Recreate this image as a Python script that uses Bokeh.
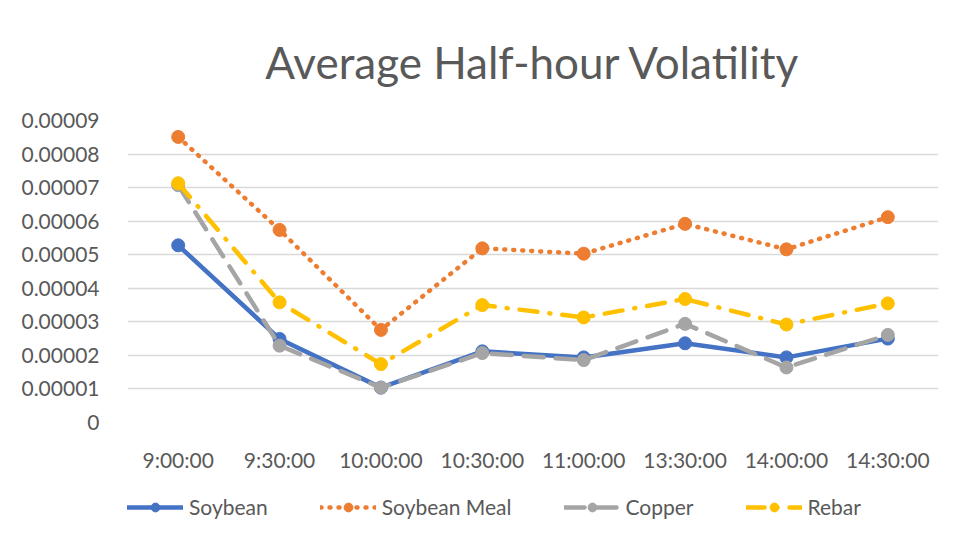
from bokeh.plotting import figure
from bokeh.layouts import column
from bokeh.models import Legend, LegendItem, FactorRange, FixedTicker, CustomJSTickFormatter, Range1d
from bokeh.embed import file_html
from bokeh.resources import INLINE

times = ["9:00:00", "9:30:00", "10:00:00", "10:30:00", "11:00:00", "13:30:00", "14:00:00", "14:30:00"]
soybean = [5.28e-5, 2.49e-5, 1.04e-5, 2.12e-5, 1.94e-5, 2.36e-5, 1.94e-5, 2.50e-5]
soybean_meal = [8.51e-5, 5.74e-5, 2.76e-5, 5.19e-5, 5.03e-5, 5.92e-5, 5.16e-5, 6.12e-5]
copper = [7.07e-5, 2.29e-5, 1.04e-5, 2.07e-5, 1.86e-5, 2.94e-5, 1.64e-5, 2.61e-5]
rebar = [7.13e-5, 3.58e-5, 1.74e-5, 3.50e-5, 3.13e-5, 3.68e-5, 2.92e-5, 3.55e-5]
y_ticks = [0, 1e-5, 2e-5, 3e-5, 4e-5, 5e-5, 6e-5, 7e-5, 8e-5, 9e-5]

FONT = "Lato"
TXT = "#595959"

p = figure(frame_width=811, frame_height=302, x_range=FactorRange(*times), y_range=Range1d(0, 9e-5),
           output_backend="svg", toolbar_location=None,
           min_border_left=127, min_border_right=9, min_border_top=120, min_border_bottom=50)
p.outline_line_color = None
p.background_fill_color = "white"
p.border_fill_color = "white"

p.title.text = "Average Half-hour Volatility"
p.title.align = "center"
p.title.text_font = FONT
p.title.text_font_size = "44px"
p.title.text_font_style = "normal"
p.title.text_color = TXT
p.title.standoff = 65

series = [
    ("Soybean", soybean, "#4472C4", "solid"),
    ("Soybean Meal", soybean_meal, "#ED7D31", "1 8"),
    ("Copper", copper, "#A5A5A5", "20 12"),
    ("Rebar", rebar, "#FFC000", "18 12 1 12"),
]

# legend strip below the chart (its own renderers are out of its visible range)
leg = figure(width=947, height=69, x_range=FactorRange(*times), y_range=Range1d(1, 2),
             output_backend="svg", toolbar_location=None,
             min_border_left=0, min_border_right=0, min_border_top=0, min_border_bottom=0)
leg.axis.visible = False
leg.grid.visible = False
leg.outline_line_color = None

items = []
for name, vals, col, dash in series:
    p.line(times, vals, line_color=col, line_width=4.5, line_dash=dash, line_cap="round")
    p.scatter(times, vals, marker="circle", size=13, fill_color=col, line_color=col)
    l1 = leg.line(times, vals, line_color=col, line_width=4.5, line_dash=dash, line_cap="round")
    l2 = leg.scatter(times, vals, marker="circle", size=13, fill_color=col, line_color=col)
    items.append(LegendItem(label=name, renderers=[l1, l2]))

legend = Legend(items=items, orientation="horizontal", location=(0, 24),
                label_text_font=FONT, label_text_font_size="21px", label_text_color=TXT,
                glyph_width=56, glyph_height=22, label_height=22, label_standoff=6, spacing=52,
                border_line_color=None, background_fill_alpha=0, margin=0, padding=0)
leg.add_layout(legend, "center")

p.yaxis.ticker = FixedTicker(ticks=y_ticks)
p.yaxis.formatter = CustomJSTickFormatter(code="return tick == 0 ? '0' : tick.toFixed(5);")
for ax in (p.xaxis[0], p.yaxis[0]):
    ax.axis_line_color = None
    ax.major_tick_line_color = None
    ax.minor_tick_line_color = None
    ax.major_label_text_font = FONT
    ax.major_label_text_font_size = "21px"
    ax.major_label_text_color = TXT
p.yaxis.major_label_standoff = 22
p.xaxis.major_label_standoff = 18
p.xgrid.grid_line_color = None
p.ygrid.ticker = FixedTicker(ticks=y_ticks)
p.ygrid.grid_line_color = "#D9D9D9"
p.ygrid.grid_line_width = 1.5

layout = column(p, leg, spacing=0)
open("out.html", "w").write(file_html(layout, INLINE))
